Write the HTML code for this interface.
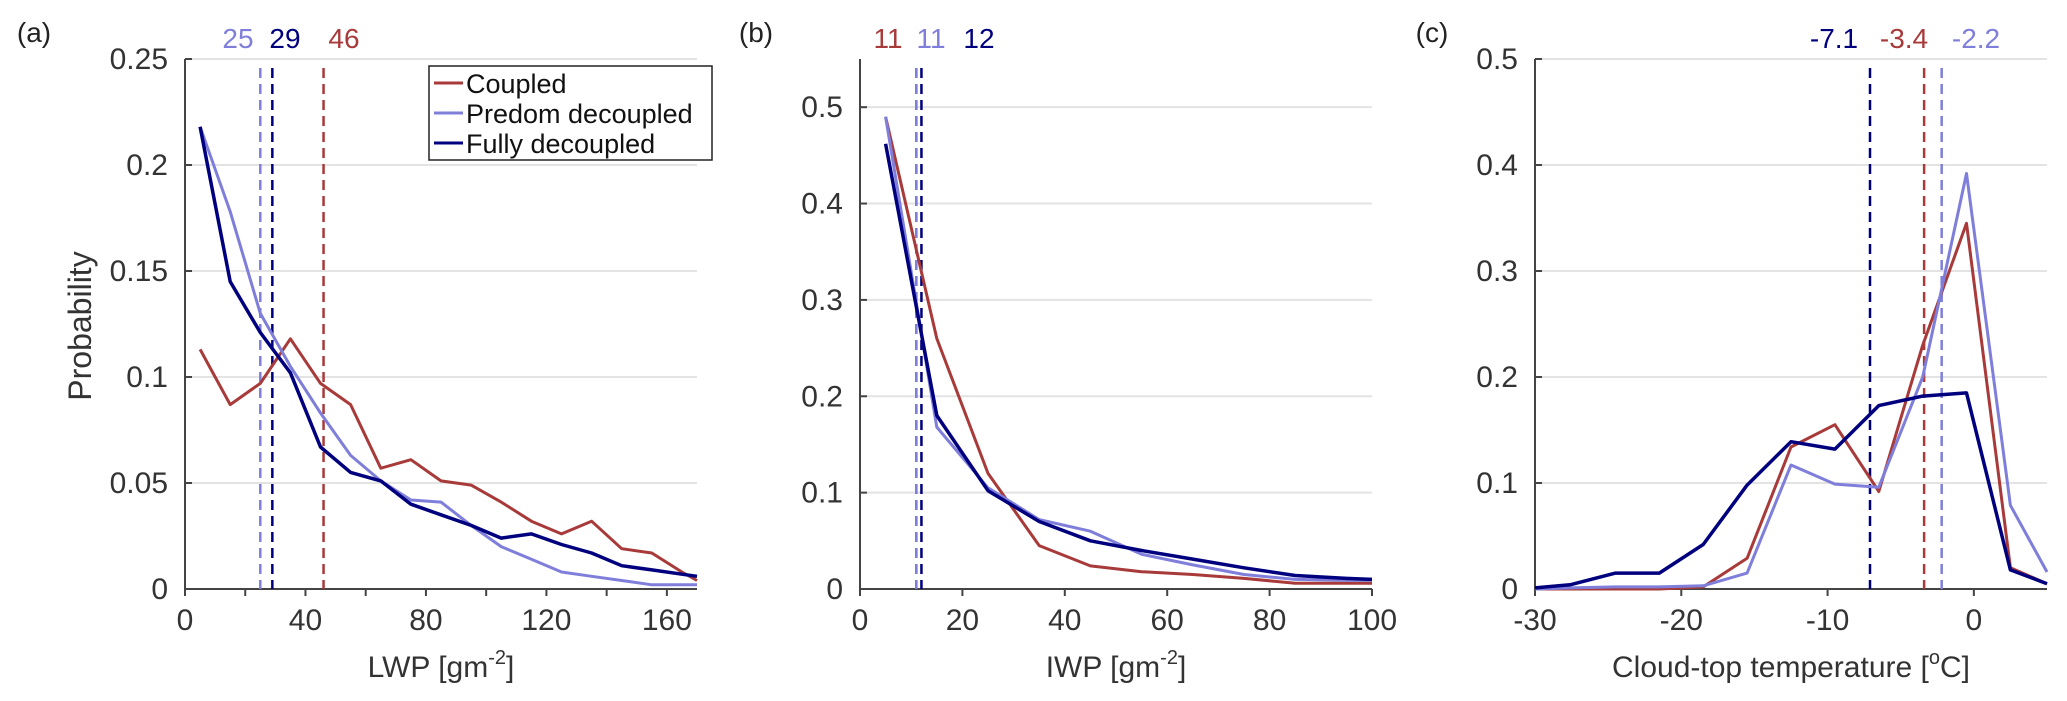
<!DOCTYPE html>
<html><head><meta charset="utf-8"><style>
html,body{margin:0;padding:0;background:#fff;}
svg{display:block;font-family:"Liberation Sans",Arial,sans-serif;}
</style></head><body>
<svg id="fig" width="2067" height="701" viewBox="0 0 2067 701" xmlns="http://www.w3.org/2000/svg"></svg>
<script>
// Panel (a) LWP
const aX = [5,15,25,35,45,55,65,75,85,95,105,115,125,135,145,155,165,170];
const aCoupled = [0.113,0.087,0.097,0.118,0.097,0.087,0.057,0.061,0.051,0.049,0.041,0.032,0.026,0.032,0.019,0.017,0.008,0.004];
const aPredom = [0.218,0.178,0.130,0.105,0.083,0.063,0.051,0.042,0.041,0.030,0.020,0.014,0.008,0.006,0.004,0.002,0.002,0.002];
const aFully = [0.218,0.145,0.121,0.102,0.067,0.055,0.051,0.040,0.035,0.030,0.024,0.026,0.021,0.017,0.011,0.009,0.007,0.006];
const aMeans = [25,29,46];
const aXTicks = [0,40,80,120,160];
const aYTicks = [0,0.05,0.1,0.15,0.2,0.25];
const aYLabels = ["0","0.05","0.1","0.15","0.2","0.25"];
// Panel (b) IWP
const bX = [5,15,25,35,45,55,65,75,85,95,100];
const bCoupled = [0.49,0.26,0.12,0.045,0.024,0.018,0.015,0.011,0.006,0.006,0.006];
const bPredom = [0.49,0.168,0.105,0.072,0.060,0.036,0.025,0.015,0.010,0.009,0.009];
const bFully = [0.462,0.180,0.102,0.070,0.050,0.040,0.031,0.022,0.014,0.011,0.010];
const bMeans = [11,11,12];
const bXTicks = [0,20,40,60,80,100];
const bYTicks = [0,0.1,0.2,0.3,0.4,0.5];
const bYLabels = ["0","0.1","0.2","0.3","0.4","0.5"];
// Panel (c) cloud-top temperature
const cX = [-30,-27.6,-24.5,-21.5,-18.5,-15.5,-12.5,-9.5,-6.5,-3.5,-0.5,2.5,5];
const cCoupled = [0,0,0,0,0.002,0.029,0.134,0.155,0.092,0.23,0.345,0.02,0.005];
const cPredom = [0,0.001,0.002,0.002,0.003,0.015,0.117,0.099,0.096,0.2,0.392,0.079,0.016];
const cFully = [0.001,0.004,0.015,0.015,0.042,0.098,0.139,0.132,0.173,0.182,0.185,0.018,0.005];
const cMeans = [-7.1,-3.4,-2.2];
const cXTicks = [-30,-20,-10,0];
const cYTicks = [0,0.1,0.2,0.3,0.4,0.5];
const cYLabels = ["0","0.1","0.2","0.3","0.4","0.5"];

const RED="#a83a3a", LIGHT="#7f7fdb", DARK="#00007f", AX="#444";
const svg=document.getElementById('fig');
const NS="http://www.w3.org/2000/svg";
function mk(tag,attrs,parent){const e=document.createElementNS(NS,tag);for(const k in attrs)e.setAttribute(k,attrs[k]);(parent||svg).appendChild(e);return e;}

function panel(o){
  const g=mk('g',{});
  
  
  const sx=v=>o.x0+(v-o.xmin)/(o.xmax-o.xmin)*(o.x1-o.x0);
  const sy=v=>o.y0-(v-o.ymin)/(o.ymax-o.ymin)*(o.y0-o.y1);
  o.yTicks.forEach((t,i)=>{
    if(t>0){const gl=mk('line',{x1:o.x0,x2:o.x1,y1:sy(t),y2:sy(t),stroke:'#e3e3e3','stroke-width':2},g);
      
      }
    const tk=mk('line',{x1:o.x0,x2:o.x0+7,y1:sy(t),y2:sy(t),stroke:AX,'stroke-width':2},g);
    
    
    const tl=mk('text',{x:o.x0-17,y:sy(t)+10,'text-anchor':'end','font-size':30,fill:'#333'},g);
    tl.textContent=o.yLabels[i];
    
    
  });
  for(let v=o.xmin;v<=o.xmax+1e-9;v+=o.xMinor){
    const tk=mk('line',{x1:sx(v),x2:sx(v),y1:o.y0,y2:o.y0+7,stroke:AX,'stroke-width':2},g);
    
    
  }
  o.xTicks.forEach(t=>{
    const tl=mk('text',{x:sx(t),y:o.y0+41,'text-anchor':'middle','font-size':30,fill:'#333'},g);
    tl.textContent=String(t);
    
    
  });
  const ya=mk('line',{x1:o.x0,x2:o.x0,y1:o.y1,y2:o.y0,stroke:AX,'stroke-width':2},g);
  
  
  const xa=mk('line',{x1:o.x0,x2:o.x1,y1:o.y0,y2:o.y0,stroke:AX,'stroke-width':2},g);
  
  
  o.means.forEach((m,i)=>{
    const ml=mk('line',{x1:sx(m),x2:sx(m),y1:o.y1+9,y2:o.y0,stroke:o.meanColors[i],'stroke-width':2.5,'stroke-dasharray':'10,6'},g);
    
    
    const mt=mk('text',{x:o.meanLabelX[i],y:48,'text-anchor':'middle','font-size':28,fill:o.meanColors[i]},g);
    mt.textContent=String(m);
    
    
  });
  o.series.forEach(s=>{
    const pts=o.xs.map((x,i)=>sx(x).toFixed(1)+','+sy(s.v[i]).toFixed(1)).join(' ');
    const pl=mk('polyline',{points:pts,fill:'none',stroke:s.c,'stroke-width':s.w,'stroke-linejoin':'round'},g);
    
    
  });
  const xl=mk('text',{x:(o.x0+o.x1)/2,y:677,'text-anchor':'middle','font-size':30,fill:'#333'},g);
  xl.innerHTML=o.xlabel;
  
  
  const pt=mk('text',{x:o.tagX,y:42,'text-anchor':'middle','font-size':28,fill:'#222'},g);
  pt.textContent=o.tag;
  
  
}

panel({name:'panel-a',x0:185,x1:697,y0:589,y1:59,xmin:0,xmax:170,ymin:0,ymax:0.25,xMinor:20,
  xTicks:aXTicks,yTicks:aYTicks,yLabels:aYLabels,xs:aX,means:aMeans,meanColors:[LIGHT,DARK,RED],meanLabelX:[238,285,344],
  series:[{n:'coupled-line-a',v:aCoupled,c:RED,w:3},{n:'predom-line-a',v:aPredom,c:LIGHT,w:3},{n:'fully-line-a',v:aFully,c:DARK,w:3.5}],
  xlabel:'LWP [gm<tspan dy="-13" font-size="20">-2</tspan><tspan dy="13">]</tspan>',tag:'(a)',tagX:34});
panel({name:'panel-b',x0:860,x1:1372,y0:589,y1:59,xmin:0,xmax:100,ymin:0,ymax:0.55,xMinor:20,
  xTicks:bXTicks,yTicks:bYTicks,yLabels:bYLabels,xs:bX,means:bMeans,meanColors:[RED,LIGHT,DARK],meanLabelX:[888,931,979],
  series:[{n:'coupled-line-b',v:bCoupled,c:RED,w:3},{n:'predom-line-b',v:bPredom,c:LIGHT,w:3},{n:'fully-line-b',v:bFully,c:DARK,w:3.5}],
  xlabel:'IWP [gm<tspan dy="-13" font-size="20">-2</tspan><tspan dy="13">]</tspan>',tag:'(b)',tagX:756});
panel({name:'panel-c',x0:1535,x1:2047,y0:589,y1:59,xmin:-30,xmax:5,ymin:0,ymax:0.5,xMinor:10,
  xTicks:cXTicks,yTicks:cYTicks,yLabels:cYLabels,xs:cX,means:cMeans,meanColors:[DARK,RED,LIGHT],meanLabelX:[1834,1904,1976],
  series:[{n:'coupled-line-c',v:cCoupled,c:RED,w:3},{n:'predom-line-c',v:cPredom,c:LIGHT,w:3},{n:'fully-line-c',v:cFully,c:DARK,w:3.5}],
  xlabel:'Cloud-top temperature [<tspan dy="-13" font-size="20">o</tspan><tspan dy="13">C]</tspan>',tag:'(c)',tagX:1432});

const yt=mk('text',{x:0,y:0,transform:'translate(91,326) rotate(-90)','text-anchor':'middle','font-size':32,fill:'#333'});
yt.textContent='Probability';



const lg=mk('g',{});


mk('rect',{x:429,y:66,width:283,height:94,fill:'#fff',stroke:'#222','stroke-width':1.5},lg);
const legNames=['Coupled','Predom decoupled','Fully decoupled'];
const legColors=[RED,LIGHT,DARK];
legNames.forEach((n,i)=>{
  const y=83+i*30;
  const ent=mk('g',{},lg);
  
  
  mk('line',{x1:434,x2:463,y1:y,y2:y,stroke:legColors[i],'stroke-width':3},ent);
  const t=mk('text',{x:466,y:y+10,'font-size':27,fill:'#111'},ent);
  t.textContent=n;
});
</script>
</body></html>
